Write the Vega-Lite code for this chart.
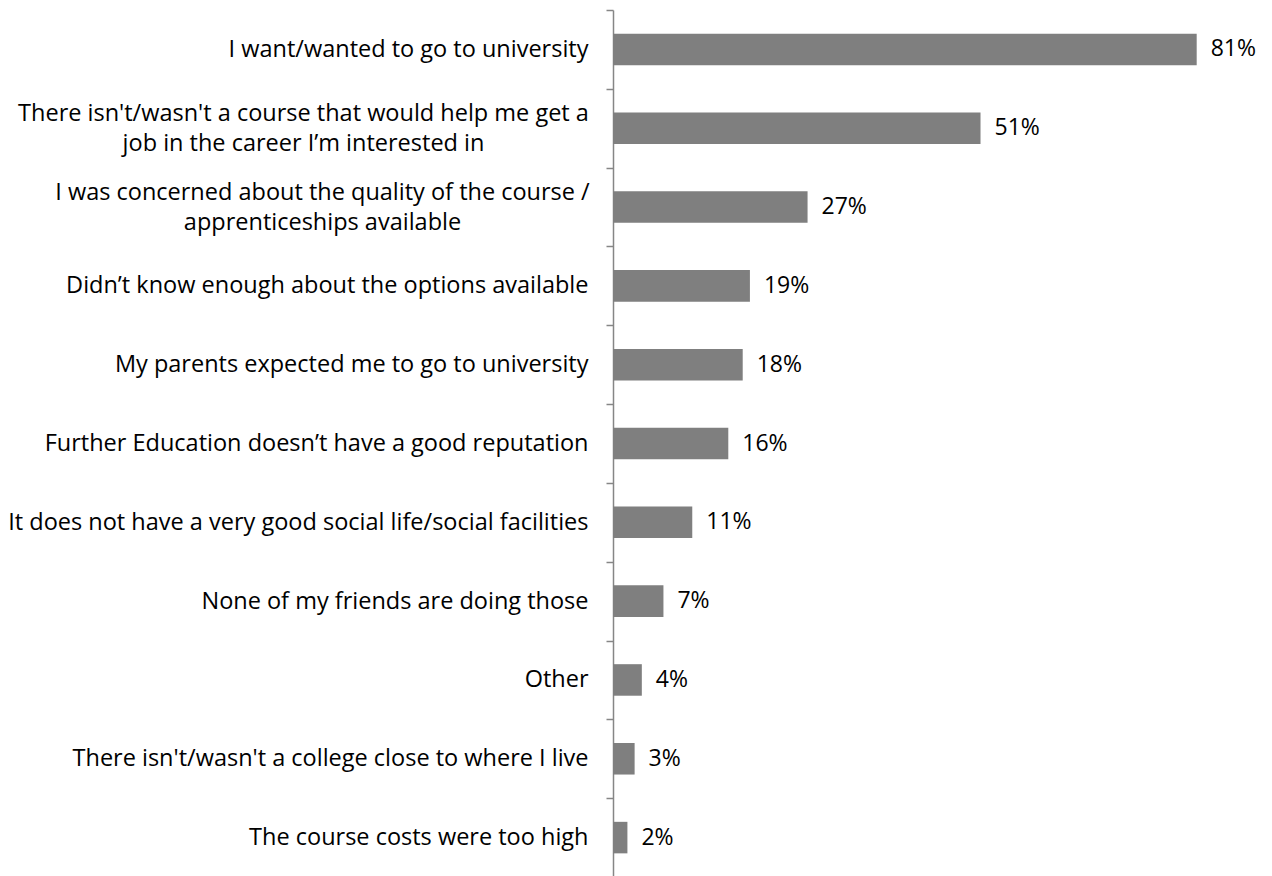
{
  "$schema": "https://vega.github.io/schema/vega-lite/v6.json",
  "autosize": "none",
  "padding": {"left": 613, "top": 10, "right": 0, "bottom": 0},
  "width": 659,
  "height": 867,
  "background": "white",
  "config": {"view": {"stroke": null}, "font": "Open Sans"},
  "data": {"values": [
    {"reason": "I want/wanted to go to university", "share": 0.81},
    {"reason": "There isn't/wasn't a course that would help me get a|job in the career I’m interested in", "share": 0.51},
    {"reason": "I was concerned about the quality of the course /|apprenticeships available", "share": 0.27},
    {"reason": "Didn’t know enough about the options available", "share": 0.19},
    {"reason": "My parents expected me to go to  university", "share": 0.18},
    {"reason": "Further Education doesn’t have a good reputation", "share": 0.16},
    {"reason": "It does not have a very good social life/social facilities", "share": 0.11},
    {"reason": "None of my friends are doing those", "share": 0.07},
    {"reason": "Other", "share": 0.04},
    {"reason": "There isn't/wasn't a college close to where I live", "share": 0.03},
    {"reason": "The course costs were too high", "share": 0.02}
  ]},
  "encoding": {
    "y": {
      "field": "reason", "type": "nominal", "sort": null,
      "scale": {"paddingInner": 0, "paddingOuter": 0},
      "axis": {
        "title": null,
        "tickBand": "extent",
        "tickSize": 7,
        "tickColor": "#868686",
        "domainColor": "#868686",
        "domainWidth": 1.5,
        "tickWidth": 1.5,
        "labelPadding": {"condition": [
          {"test": "datum.value && indexof(datum.value, 'would help me') >= 0", "value": 303},
          {"test": "datum.value && indexof(datum.value, 'apprenticeships') >= 0", "value": 284}
        ], "value": 18},
        "labelAlign": {"condition": {"test": "datum.value && indexof(datum.value, '|') >= 0", "value": "center"}, "value": "right"},
        "labelFontSize": 23.5,
        "labelFont": "Open Sans",
        "labelColor": "#000000",
        "labelLimit": 700,
        "labelLineHeight": 30,
        "labelOffset": {"condition": {"test": "datum.value && indexof(datum.value, '|') >= 0", "value": -15}, "value": 0},
        "labelExpr": "datum.value ? split(datum.value, '|') : ''"
      }
    },
    "x": {
      "field": "share", "type": "quantitative",
      "scale": {"domain": [0, 0.9145], "nice": false, "zero": true},
      "axis": null
    }
  },
  "layer": [
    {"mark": {"type": "bar", "color": "#7f7f7f", "height": {"band": 0.4}}},
    {
      "mark": {"type": "text", "align": "left", "baseline": "middle", "dx": 14, "fontSize": 23, "font": "Open Sans", "color": "#000000"},
      "encoding": {"text": {"field": "share", "type": "quantitative", "format": ".0%"}}
    }
  ]
}
